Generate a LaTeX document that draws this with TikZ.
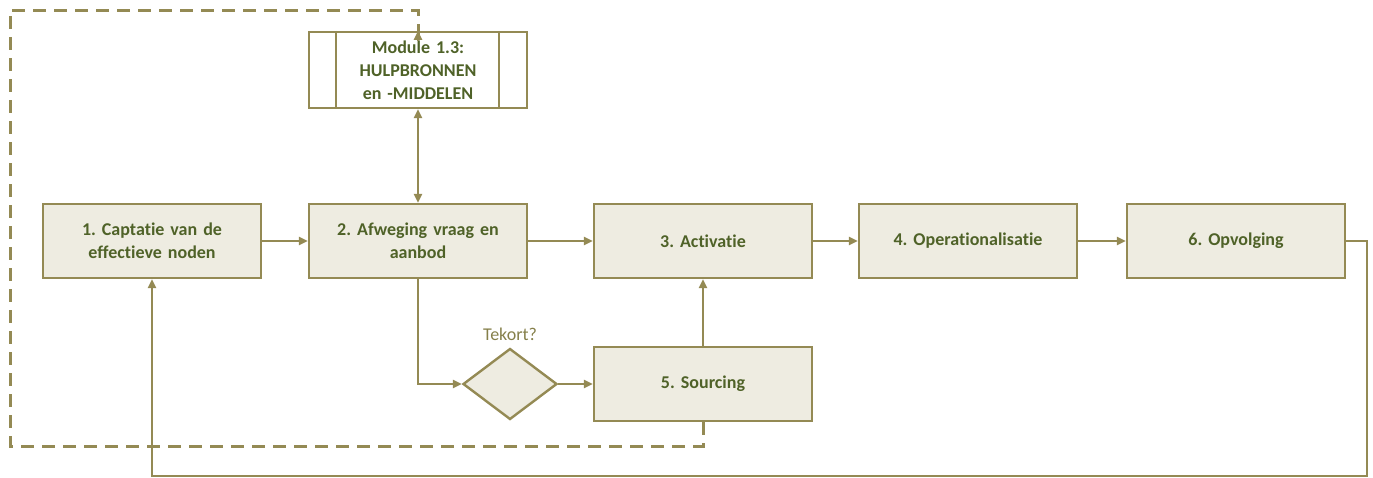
\documentclass[tikz,border=0pt]{standalone}
\usepackage{fontspec}
\setmainfont[RawFeature={-liga}]{Carlito}
\frenchspacing
\usetikzlibrary{arrows.meta,shapes.geometric}
\definecolor{edge}{HTML}{948A54}
\definecolor{boxfill}{HTML}{EEECE1}
\definecolor{label}{HTML}{4F6228}
\definecolor{question}{HTML}{857F4A}
\begin{document}
\begin{tikzpicture}[x=1pt,y=-1pt,
  stepbox/.style={draw=edge,fill=boxfill,line width=2.4pt,minimum width=218pt,minimum height=74pt,
    inner sep=4pt,align=center,text=label,font=\fontsize{18}{23}\selectfont\bfseries,text width=205pt},
  link/.style={draw=edge,line width=2.4pt,-{Triangle[length=9pt,width=8pt]}},
  plain/.style={draw=edge,line width=2.4pt},
  loopback/.style={draw=edge,line width=3pt,dash pattern=on 13pt off 8pt}]
\useasboundingbox (0,0) rectangle (1373,477);

% process steps
\node[stepbox] (b1) at (152,241) {1. Captatie van de\\effectieve noden};
\node[stepbox] (b2) at (418,241) {2. Afweging vraag en\\aanbod};
\node[stepbox] (b3) at (703,241) {3. Activatie};
\node[stepbox] (b4) at (968,241) {4. Operationalisatie};
\node[stepbox] (b6) at (1236,241) {6. Opvolging};
\node[stepbox] (b5) at (703,384) {5. Sourcing};

% linked module (predefined process)
\node[stepbox,fill=white,minimum height=76pt] (mod) at (418,70) {Module 1.3:\\HULPBRONNEN\\en -MIDDELEN};
\draw[plain] ([xshift=28pt]mod.north west) -- ([xshift=28pt]mod.south west);
\draw[plain] ([xshift=-29pt]mod.north east) -- ([xshift=-29pt]mod.south east);

% decision
\node[diamond,draw=edge,fill=boxfill,line width=2.4pt,minimum width=94pt,minimum height=71pt,
  inner sep=0pt,aspect=1.32] (dia) at (510,384) {};
\node[text=question,font=\fontsize{18}{21}\selectfont] (q) at (510,334) {Tekort?};

% main flow
\draw[link] (b1.east) -- (b2.west);
\draw[link] (b2.east) -- (b3.west);
\draw[link] (b3.east) -- (b4.west);
\draw[link] (b4.east) -- (b6.west);
\draw[link,{Triangle[length=9pt,width=8pt]}-{Triangle[length=9pt,width=8pt]}] (b2.north) -- (mod.south);
\draw[link] (b2.south) |- (dia.west);
\draw[link] (dia.east) -- (b5.west);
\draw[link] (b5.north) -- (b3.south);

% feedback from follow-up to step 1
\coordinate (fr) at (1367,476);
\draw[link] (b6.east) -| (fr) -| (b1.south);

% dashed return from sourcing to the module
\coordinate (dl) at (10,446);
\coordinate (dt) at (10,10);
\draw[loopback] (b5.south) |- (dl) -- (dt) -| ([yshift=-8pt]mod.north);
\draw[link] ([yshift=-10pt]mod.north) -- (mod.north);
\end{tikzpicture}
\end{document}
